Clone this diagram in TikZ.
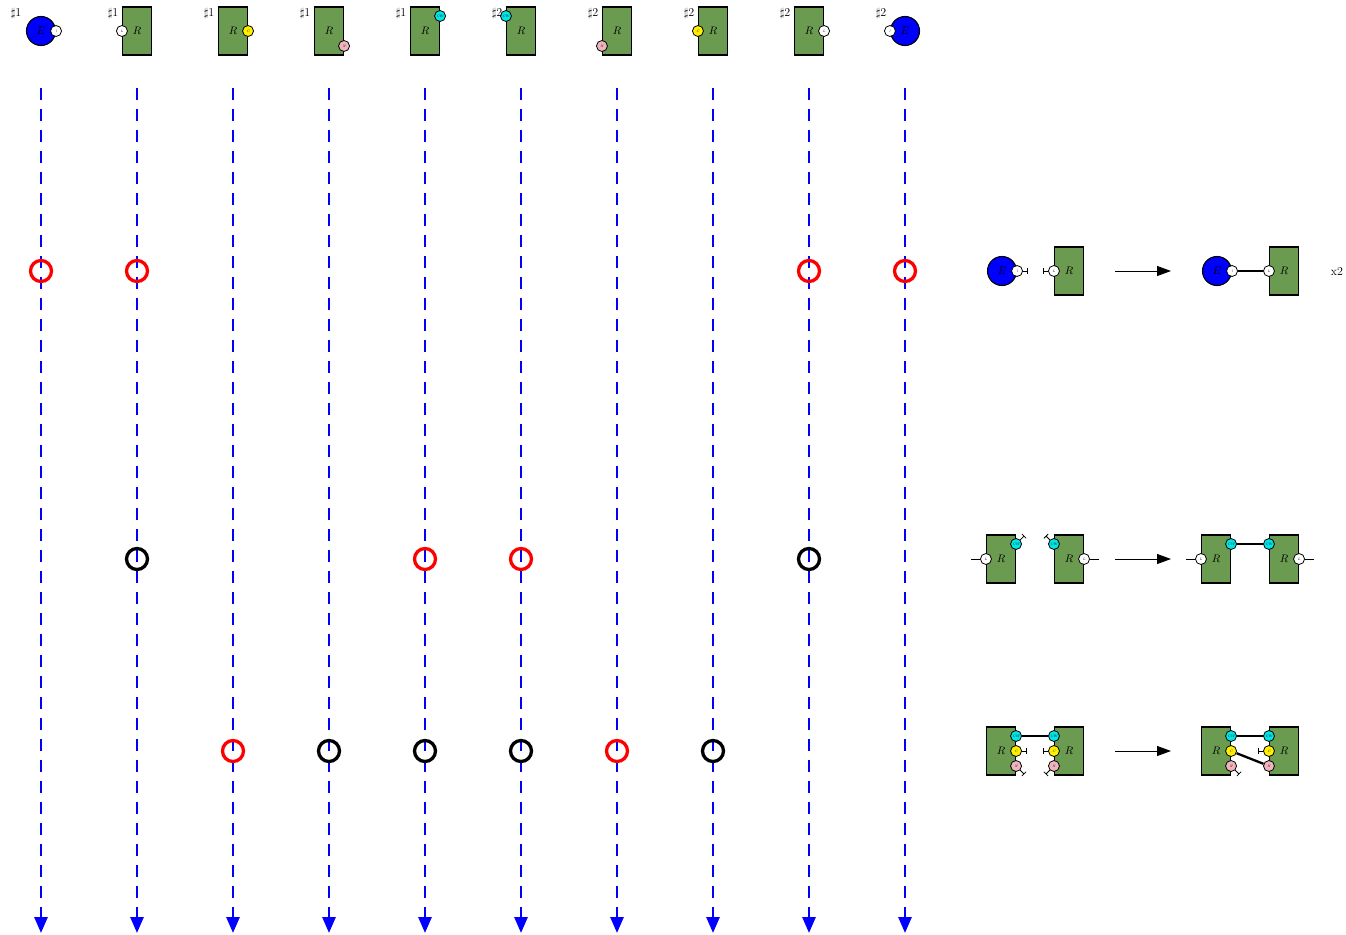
\documentclass[tikz,border=0pt]{standalone}
\usetikzlibrary{arrows.meta}
\definecolor{rgreen}{RGB}{106,155,80}
\definecolor{spink}{RGB}{240,180,190}
\definecolor{scyan}{RGB}{0,230,230}
\definecolor{syellow}{RGB}{255,240,0}
\begin{document}
\begin{tikzpicture}[x=1pt,y=-1pt,
  agentR/.style={draw=black, line width=1.1pt, fill=rgreen, minimum width=29pt, minimum height=48pt, inner sep=0pt, font=\fontsize{11}{11}\selectfont},
  agentE/.style={circle, draw=black, line width=1.1pt, fill=blue, minimum size=29pt, inner sep=0pt, font=\fontsize{11}{11}\selectfont},
  site/.style={circle, draw=black, line width=0.8pt, fill=white, minimum size=11pt, inner sep=0pt, font=\fontsize{3.5}{3.5}\selectfont\itshape},
  siteC/.style={site, fill=syellow},
  siteN/.style={site, fill=spink},
  siteCW/.style={site, fill=scyan},
  lbl/.style={font=\fontsize{12}{12}\selectfont, inner sep=0pt},
  timeline/.style={blue, line width=2.9pt, dash pattern=on 12pt off 9pt, -{Triangle[length=16pt,width=13pt]}},
  evred/.style={circle, draw=red, line width=3.3pt, minimum size=21pt, inner sep=0pt},
  evblack/.style={circle, draw=black, line width=3.3pt, minimum size=21pt, inner sep=0pt},
  stub/.style={line width=0.8pt, -{Bar[width=6pt,line width=0.8pt]}},
  free/.style={line width=0.8pt},
  bond/.style={line width=2.3pt},
  rulearrow/.style={line width=0.9pt, -{Triangle[length=14pt,width=10pt]}}
]
\useasboundingbox (0,0) rectangle (1346,934);

% ---------- top agents ----------
\node[agentE] (a1) at (41,31) {$E$};
\node[site] (a1s) at (a1.east) {l};
\node[lbl] (l1) at (16,14) {$\sharp 1$};

\node[agentR] (a2) at (137,31) {$R$};
\node[site] (a2s) at (a2.west) {L};
\node[lbl] (l2) at (113,14) {$\sharp 1$};

\node[agentR] (a3) at (233,31) {$R$};
\node[siteC] (a3s) at (a3.east) {C};
\node[lbl] (l3) at (209,14) {$\sharp 1$};

\node[agentR] (a4) at (329,31) {$R$};
\node[siteN] (a4s) at ([yshift=-15pt]a4.east) {N};
\node[lbl] (l4) at (305,14) {$\sharp 1$};

\node[agentR] (a5) at (425,31) {$R$};
\node[siteCW] (a5s) at ([yshift=15pt]a5.east) {CW};
\node[lbl] (l5) at (401,14) {$\sharp 1$};

\node[agentR] (a6) at (521,31) {$R$};
\node[siteCW] (a6s) at ([yshift=15pt]a6.west) {CW};
\node[lbl] (l6) at (497,14) {$\sharp 2$};

\node[agentR] (a7) at (617,31) {$R$};
\node[siteN] (a7s) at ([yshift=-15pt]a7.west) {N};
\node[lbl] (l7) at (593,14) {$\sharp 2$};

\node[agentR] (a8) at (713,31) {$R$};
\node[siteC] (a8s) at (a8.west) {C};
\node[lbl] (l8) at (689,14) {$\sharp 2$};

\node[agentR] (a9) at (809,31) {$R$};
\node[site] (a9s) at (a9.east) {L};
\node[lbl] (l9) at (785,14) {$\sharp 2$};

\node[agentE] (a10) at (905,31) {$E$};
\node[site] (a10s) at (a10.west) {l};
\node[lbl] (l10) at (881,14) {$\sharp 2$};

% ---------- timelines ----------
\foreach \i/\x in {1/41,2/137,3/233,4/329,5/425,6/521,7/617,8/713,9/809,10/905}{
  \coordinate (t\i) at (\x,88);
  \coordinate (b\i) at (\x,933);
  \draw[timeline] (t\i) -- (b\i);
}

% ---------- events ----------
\node[evred] (e11) at (41,271) {};
\node[evred] (e21) at (137,271) {};
\node[evred] (e91) at (809,271) {};
\node[evred] (e101) at (905,271) {};

\node[evblack] (e22) at (137,559) {};
\node[evred] (e52) at (425,559) {};
\node[evred] (e62) at (521,559) {};
\node[evblack] (e92) at (809,559) {};

\node[evred] (e33) at (233,751) {};
\node[evblack] (e43) at (329,751) {};
\node[evblack] (e53) at (425,751) {};
\node[evblack] (e63) at (521,751) {};
\node[evred] (e73) at (617,751) {};
\node[evblack] (e83) at (713,751) {};

% ---------- rule 1 ----------
\node[agentE] (r1a) at (1002,271) {$E$};
\node[site] (r1as) at (r1a.east) {l};
\draw[stub] (r1as.east) -- ++(5,0);
\node[agentR] (r1b) at (1069,271) {$R$};
\node[site] (r1bs) at (r1b.west) {L};
\draw[stub] (r1bs.west) -- ++(-5,0);
\coordinate (r1p) at (1115,271);
\coordinate (r1q) at (1171,271);
\draw[rulearrow] (r1p) -- (r1q);
\node[agentE] (r1c) at (1217,271) {$E$};
\node[site] (r1cs) at (r1c.east) {l};
\node[agentR] (r1d) at (1284,271) {$R$};
\node[site] (r1ds) at (r1d.west) {L};
\draw[bond] (r1cs) -- (r1ds);
\node[font=\fontsize{12}{12}\selectfont] (x2) at (1337,272) {x2};

% ---------- rule 2 ----------
\node[agentR] (r2a) at (1001,559) {$R$};
\node[site] (r2aL) at (r2a.west) {L};
\node[siteCW] (r2aW) at ([yshift=15pt]r2a.east) {CW};
\draw[free] (r2aL.west) -- ++(-9,0);
\draw[stub] (r2aW.45) -- ++(4,-4);
\node[agentR] (r2b) at (1069,559) {$R$};
\node[site] (r2bL) at (r2b.east) {L};
\node[siteCW] (r2bW) at ([yshift=15pt]r2b.west) {CW};
\draw[free] (r2bL.east) -- ++(9,0);
\draw[stub] (r2bW.135) -- ++(-4,-4);
\coordinate (r2p) at (1115,559);
\coordinate (r2q) at (1171,559);
\draw[rulearrow] (r2p) -- (r2q);
\node[agentR] (r2c) at (1216,559) {$R$};
\node[site] (r2cL) at (r2c.west) {L};
\node[siteCW] (r2cW) at ([yshift=15pt]r2c.east) {CW};
\draw[free] (r2cL.west) -- ++(-9,0);
\node[agentR] (r2d) at (1284,559) {$R$};
\node[site] (r2dL) at (r2d.east) {L};
\node[siteCW] (r2dW) at ([yshift=15pt]r2d.west) {CW};
\draw[free] (r2dL.east) -- ++(9,0);
\draw[bond] (r2cW) -- (r2dW);

% ---------- rule 3 ----------
\node[agentR] (r3a) at (1001,751) {$R$};
\node[siteCW] (r3aW) at ([yshift=15pt]r3a.east) {CW};
\node[siteC] (r3aC) at (r3a.east) {C};
\node[siteN] (r3aN) at ([yshift=-15pt]r3a.east) {N};
\draw[stub] (r3aC.east) -- ++(5,0);
\draw[stub] (r3aN.-45) -- ++(4,4);
\node[agentR] (r3b) at (1069,751) {$R$};
\node[siteCW] (r3bW) at ([yshift=15pt]r3b.west) {CW};
\node[siteC] (r3bC) at (r3b.west) {C};
\node[siteN] (r3bN) at ([yshift=-15pt]r3b.west) {N};
\draw[stub] (r3bC.west) -- ++(-5,0);
\draw[stub] (r3bN.-135) -- ++(-4,4);
\draw[bond] (r3aW) -- (r3bW);
\coordinate (r3p) at (1115,751);
\coordinate (r3q) at (1171,751);
\draw[rulearrow] (r3p) -- (r3q);
\node[agentR] (r3c) at (1216,751) {$R$};
\node[siteCW] (r3cW) at ([yshift=15pt]r3c.east) {CW};
\node[siteC] (r3cC) at (r3c.east) {C};
\node[siteN] (r3cN) at ([yshift=-15pt]r3c.east) {N};
\draw[stub] (r3cN.-45) -- ++(4,4);
\node[agentR] (r3d) at (1284,751) {$R$};
\node[siteCW] (r3dW) at ([yshift=15pt]r3d.west) {CW};
\node[siteC] (r3dC) at (r3d.west) {C};
\node[siteN] (r3dN) at ([yshift=-15pt]r3d.west) {N};
\draw[stub] (r3dC.west) -- ++(-5,0);
\draw[bond] (r3cW) -- (r3dW);
\draw[bond] (r3cC) -- (r3dN);
\end{tikzpicture}
\end{document}
